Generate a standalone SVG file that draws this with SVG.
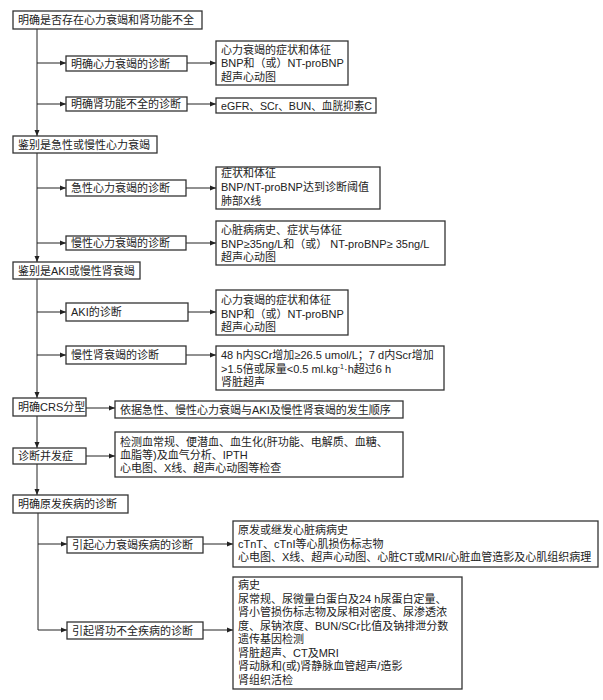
<svg xmlns="http://www.w3.org/2000/svg" width="603" height="700" viewBox="0 0 603 700">
<defs>
<style>
.b{fill:#fff;stroke:#333;stroke-width:1.3}
.c{fill:none;stroke:#222;stroke-width:1}
text{font-family:"Liberation Sans","Noto Sans CJK SC",sans-serif;font-size:11px;fill:#222}
</style>
<marker id="ar" markerWidth="6" markerHeight="6" refX="6" refY="3" orient="auto" markerUnits="userSpaceOnUse">
<path d="M0,0.5 L6,3 L0,5.5 z" fill="#222"/>
</marker>
</defs>
<rect width="603" height="700" fill="#fff"/>
<g id="connectors">
<path class="c" d="M37,29 V136" marker-end="url(#ar)"/>
<path class="c" d="M37,153 V262" marker-end="url(#ar)"/>
<path class="c" d="M37,279 V398" marker-end="url(#ar)"/>
<path class="c" d="M37,416 V448" marker-end="url(#ar)"/>
<path class="c" d="M37,464 V495" marker-end="url(#ar)"/>
<path class="c" d="M38,513 V630 H67" marker-end="url(#ar)"/>
<path class="c" d="M37,63 H66" marker-end="url(#ar)"/>
<path class="c" d="M187,63 H216" marker-end="url(#ar)"/>
<path class="c" d="M37,104 H66" marker-end="url(#ar)"/>
<path class="c" d="M187,104 H216" marker-end="url(#ar)"/>
<path class="c" d="M37,188 H66" marker-end="url(#ar)"/>
<path class="c" d="M186,188 H216" marker-end="url(#ar)"/>
<path class="c" d="M37,243 H66" marker-end="url(#ar)"/>
<path class="c" d="M186,243 H216" marker-end="url(#ar)"/>
<path class="c" d="M37,312 H66" marker-end="url(#ar)"/>
<path class="c" d="M188,312 H216" marker-end="url(#ar)"/>
<path class="c" d="M37,355 H66" marker-end="url(#ar)"/>
<path class="c" d="M186,355 H216" marker-end="url(#ar)"/>
<path class="c" d="M86,408 H115" marker-end="url(#ar)"/>
<path class="c" d="M86,456 H115" marker-end="url(#ar)"/>
<path class="c" d="M38,544 H67" marker-end="url(#ar)"/>
<path class="c" d="M203,544 H233" marker-end="url(#ar)"/>
<path class="c" d="M203,630 H233" marker-end="url(#ar)"/>
</g>
<g id="n1"><rect class="b" x="13" y="11" width="189" height="18"/><text x="18" y="24">明确是否存在心力衰竭和肾功能不全</text></g>
<g id="n1a"><rect class="b" x="66" y="56" width="121" height="15"/><text x="71" y="67.5">明确心力衰竭的诊断</text></g>
<g id="n1a1"><rect class="b" x="216" y="41" width="132" height="44"/><text x="221" y="53.5">心力衰竭的症状和体征</text><text x="221" y="67">BNP和（或）NT-proBNP</text><text x="221" y="80.5">超声心动图</text></g>
<g id="n1b"><rect class="b" x="66" y="97" width="121" height="14"/><text x="71" y="108">明确肾功能不全的诊断</text></g>
<g id="n1b1"><rect class="b" x="216" y="98" width="160" height="15"/><text x="221" y="109.5" textLength="151" lengthAdjust="spacingAndGlyphs">eGFR、SCr、BUN、血胱抑素C</text></g>
<g id="n2"><rect class="b" x="13" y="136" width="144" height="17"/><text x="18" y="148.5">鉴别是急性或慢性心力衰竭</text></g>
<g id="n2a"><rect class="b" x="66" y="180" width="120" height="16"/><text x="71" y="192">急性心力衰竭的诊断</text></g>
<g id="n2a1"><rect class="b" x="216" y="167" width="164" height="42"/><text x="221" y="177">症状和体征</text><text x="221" y="191">BNP/NT-proBNP达到诊断阈值</text><text x="221" y="205">肺部X线</text></g>
<g id="n2b"><rect class="b" x="66" y="236" width="120" height="14"/><text x="71" y="247">慢性心力衰竭的诊断</text></g>
<g id="n2b1"><rect class="b" x="216" y="221" width="229" height="44"/><text x="221" y="233.5">心脏病病史、症状与体征</text><text x="221" y="247.5">BNP≥35ng/L和（或） NT-proBNP≥ 35ng/L</text><text x="221" y="261">超声心动图</text></g>
<g id="n3"><rect class="b" x="13" y="262" width="127" height="17"/><text x="18" y="274.5">鉴别是AKI或慢性肾衰竭</text></g>
<g id="n3a"><rect class="b" x="66" y="303" width="122" height="18"/><text x="71" y="316">AKI的诊断</text></g>
<g id="n3a1"><rect class="b" x="216" y="290" width="132" height="45"/><text x="221" y="304">心力衰竭的症状和体征</text><text x="221" y="317.5">BNP和（或）NT-proBNP</text><text x="221" y="331">超声心动图</text></g>
<g id="n3b"><rect class="b" x="66" y="346" width="120" height="18"/><text x="71" y="359">慢性肾衰竭的诊断</text></g>
<g id="n3b1"><rect class="b" x="216" y="346" width="228" height="44"/><text x="221" y="359">48 h内SCr增加≥26.5 umol/L；7 d内Scr增加</text><text x="221" y="372.5">&gt;1.5倍或尿量&lt;0.5 ml.kg<tspan font-size="7" dy="-4">-1</tspan><tspan dy="4">·h超过6 h</tspan></text><text x="221" y="385.5">肾脏超声</text></g>
<g id="n4"><rect class="b" x="13" y="398" width="73" height="18"/><text x="18" y="411">明确CRS分型</text></g>
<g id="n4a"><rect class="b" x="115" y="401" width="288" height="17"/><text x="120" y="413.5">依据急性、慢性心力衰竭与AKI及慢性肾衰竭的发生顺序</text></g>
<g id="n5"><rect class="b" x="13" y="448" width="73" height="16"/><text x="18" y="460">诊断并发症</text></g>
<g id="n5a"><rect class="b" x="115" y="432" width="288" height="45"/><text x="120" y="445.5">检测血常规、便潜血、血生化(肝功能、电解质、血糖、</text><text x="120" y="458.5">血脂等)及血气分析、IPTH</text><text x="120" y="472">心电图、X线、超声心动图等检查</text></g>
<g id="n6"><rect class="b" x="13" y="495" width="115" height="18"/><text x="18" y="508">明确原发疾病的诊断</text></g>
<g id="n6a"><rect class="b" x="67" y="537" width="136" height="16"/><text x="72" y="549">引起心力衰竭疾病的诊断</text></g>
<g id="n6a1"><rect class="b" x="233" y="521" width="365" height="46"/><text x="238" y="534">原发或继发心脏病病史</text><text x="238" y="547.5">cTnT、cTnI等心肌损伤标志物</text><text x="238" y="561">心电图、X线、超声心动图、心脏CT或MRI/心脏血管造影及心肌组织病理</text></g>
<g id="n6b"><rect class="b" x="67" y="622" width="136" height="17"/><text x="72" y="634.5">引起肾功不全疾病的诊断</text></g>
<g id="n6b1"><rect class="b" x="233" y="577" width="229" height="112"/><text x="238" y="589">病史</text><text x="238" y="602.5">尿常规、尿微量白蛋白及24 h尿蛋白定量、</text><text x="238" y="616">肾小管损伤标志物及尿相对密度、尿渗透浓</text><text x="238" y="629.5">度、尿钠浓度、BUN/SCr比值及钠排泄分数</text><text x="238" y="643">遗传基因检测</text><text x="238" y="656.5">肾脏超声、CT及MRI</text><text x="238" y="670">肾动脉和(或)肾静脉血管超声/造影</text><text x="238" y="683.5">肾组织活检</text></g>
</svg>
